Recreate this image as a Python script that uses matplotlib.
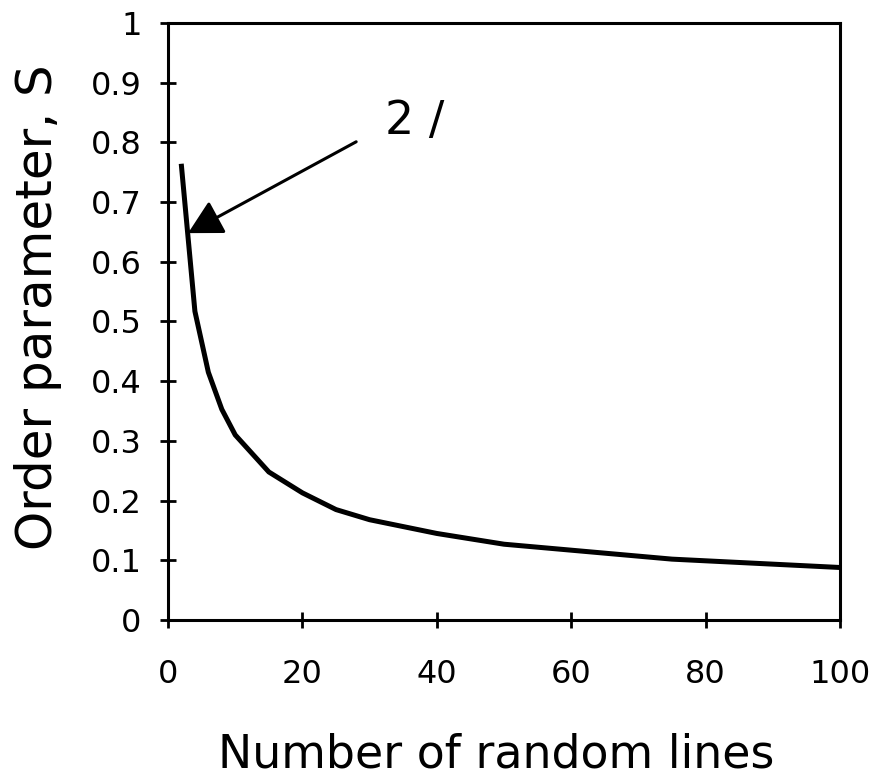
import matplotlib
matplotlib.use("Agg")
import matplotlib.pyplot as plt

n_lines = [2, 4, 6, 8, 10, 15, 20, 25, 30, 40, 50, 75, 100]
order_s = [0.760, 0.517, 0.415, 0.353, 0.310, 0.248, 0.213, 0.185, 0.168, 0.145, 0.127, 0.102, 0.088]
x_ticks = [0, 20, 40, 60, 80, 100]
y_ticks = [0, 0.1, 0.2, 0.3, 0.4, 0.5, 0.6, 0.7, 0.8, 0.9, 1]
y_tick_labels = ["0", "0.1", "0.2", "0.3", "0.4", "0.5", "0.6", "0.7", "0.8", "0.9", "1"]
annot_text = "2 /"
annot_text_pos = (32.3, 0.814)
arrow_tip = (2.98, 0.648)
arrow_tail = (28.0, 0.801)

plt.rcParams['font.family'] = ['DejaVu Sans']
fig = plt.figure(figsize=(8.72, 7.81), dpi=100)
ax = fig.add_axes([0.1927, 0.2061, 0.7706, 0.7645])

ax.plot(n_lines, order_s, color='black', lw=3.6, solid_joinstyle='miter')
ax.set_xlim(0, 100)
ax.set_ylim(0, 1)
ax.set_xticks(x_ticks)
ax.set_xticklabels([str(v) for v in x_ticks])
ax.set_yticks(y_ticks)
ax.set_yticklabels(y_tick_labels)
for s in ax.spines.values():
    s.set_linewidth(2.2)
ax.tick_params(axis='both', direction='inout', length=12, width=2, labelsize=23)
ax.tick_params(axis='x', pad=22)
ax.tick_params(axis='y', pad=13)

fig.text(496 / 872, 1 - 767 / 781, "Number of random lines", fontsize=33,
         ha='center', va='baseline')
fig.text(38 / 872, 1 - 307 / 781, "Order parameter, S", fontsize=36,
         rotation=90, ha='center', va='center')

ax.text(annot_text_pos[0], annot_text_pos[1], annot_text, fontsize=33,
        ha='left', va='baseline')
ax.annotate('', xy=arrow_tip, xytext=arrow_tail, textcoords='data',
            arrowprops=dict(arrowstyle='-|>,head_length=0.65,head_width=0.35',
                            mutation_scale=32, color='black', lw=2.2,
                            shrinkA=0, shrinkB=0))

fig.savefig("out.png", dpi=100)
